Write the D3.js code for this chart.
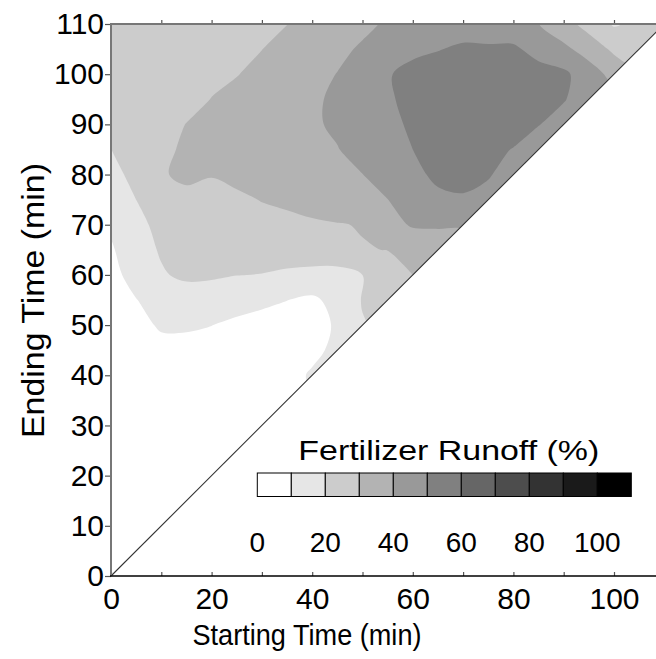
<!DOCTYPE html>
<html>
<head>
<meta charset="utf-8">
<script src="https://cdn.jsdelivr.net/npm/d3@7"></script>
<style>
  body { margin: 0; background: #fff; }
  text { font-family: "Liberation Sans", Arial, Helvetica, sans-serif; fill: #000; }
</style>
</head>
<body>
<svg id="chart" width="656" height="659"></svg>
<script>
// Grid of measurement windows (minutes)
const startTimes = [0, 5, 10, 15, 20, 25, 30, 35, 40, 45, 50, 55, 60, 65, 70, 75, 80, 85, 90, 95, 100, 105, 110];
const endTimes   = [0, 5, 10, 15, 20, 25, 30, 35, 40, 45, 50, 55, 60, 65, 70, 75, 80, 85, 90, 95, 100, 105, 110];

// Fertilizer runoff (%) — one row per ending time, values for starting times 0 .. ending time
const runoffRows = [
  [0],
  [0, 0],
  [0, 0.5, 0.5],
  [0, 0.5, 1, 1],
  [0, 0.5, 1, 1.5, 2],
  [0, 1, 1.5, 2, 2.5, 3],
  [0, 1, 2, 2.5, 3, 3.5, 5],
  [0.5, 2, 3, 3.5, 3.5, 3.5, 4.5, 8],
  [1, 3, 5, 5, 5, 4.5, 4.5, 7, 11],
  [2, 5, 7.5, 7.5, 7, 6, 5, 5.5, 8, 12],
  [4, 7.5, 11, 11, 10.1, 8.5, 7.5, 6.5, 7, 11, 19.5],
  [6, 9.8, 13, 14.5, 14, 13, 11.5, 10.1, 8.5, 12.7, 20.5, 23],
  [8, 12.5, 19, 22, 21.5, 20.2, 19.7, 18, 16.5, 16, 20, 24, 30],
  [9, 15.5, 21, 21.5, 22.6, 23.6, 24.7, 25.8, 26.8, 28, 29.5, 30.2, 33, 35],
  [11.5, 18.5, 21.5, 22, 23.2, 24.4, 25.6, 26.8, 28.5, 29.5, 30.5, 36.4, 41, 41, 40.5],
  [15, 20, 24, 28.5, 26, 27.5, 30.5, 32.3, 34.2, 36.1, 38, 39.9, 44, 48, 49.3, 47],
  [17, 22.8, 29.5, 31.1, 30.6, 33.6, 34.9, 36.1, 37.4, 38.6, 39.9, 43.6, 47.6, 52, 52, 50.8, 46],
  [19.9, 24.2, 28.6, 31, 32.4, 33.8, 35.4, 36.8, 38.3, 39.7, 42.9, 46.5, 50, 52, 53, 52, 49.7, 46],
  [20.8, 23, 26.5, 30.2, 32, 33.8, 35.5, 37.2, 38.9, 41.3, 44.3, 48, 51.2, 53.5, 55, 55, 53.5, 50.3, 47],
  [21, 22, 24, 27, 30.2, 32.3, 34.4, 36.5, 38.7, 41.5, 45.3, 49.1, 52, 54.5, 56, 56.5, 56, 54, 50.5, 46],
  [21.3, 22.5, 24, 26, 28, 29.7, 32.3, 34.9, 37.6, 40.2, 44.4, 49.5, 52, 53, 54, 54.5, 54, 53, 52, 44.5, 37],
  [22, 23.5, 25, 26.5, 27.5, 28.5, 29.9, 32.7, 35.5, 38.2, 41, 44, 48.5, 49.7, 51, 51, 51.3, 47.2, 42.1, 36, 28, 25],
  [23, 24, 25.5, 27, 28, 28.5, 29.2, 29.9, 32.6, 35.4, 38.2, 41, 44, 46, 47, 46, 45, 40.1, 33.9, 26.1, 19, 22, 24]
];

// Contour levels and their fills
const levels = [10, 20, 30, 40, 50, 60, 70, 80, 90, 100];
const levelFills = ["#e6e6e6", "#cccccc", "#b3b3b3", "#999999", "#808080",
                    "#666666", "#4d4d4d", "#333333", "#1a1a1a", "#000000"];

// Legend bins
const legendBins  = [0, 10, 20, 30, 40, 50, 60, 70, 80, 90, 100];
const legendFills = ["#ffffff", "#e6e6e6", "#cccccc", "#b3b3b3", "#999999", "#808080",
                     "#666666", "#4d4d4d", "#333333", "#1a1a1a", "#000000"];
const legendTicks = [0, 20, 40, 60, 80, 100];

// Axis ticks
const xTicks      = [0, 10, 20, 30, 40, 50, 60, 70, 80, 90, 100];
const xTickLabels = [0, 20, 40, 60, 80, 100];
const topTicks    = [10, 20, 30, 40, 50, 60, 70, 80, 90, 100];
const yTicks      = [0, 10, 20, 30, 40, 50, 60, 70, 80, 90, 100, 110];

const svg = d3.select("#chart");
const W = 656, H = 659;
svg.append("rect").attr("width", W).attr("height", H).attr("fill", "#fff");

const x = d3.scaleLinear().domain([0, 110]).range([111, 664.3]);
const y = d3.scaleLinear().domain([0, 110]).range([576, 24]);

// Only windows with ending time after starting time are valid: clip to that triangle
svg.append("clipPath").attr("id", "valid")
  .append("path")
  .attr("d", `M${x(0)},${y(0)}L${x(0)},${y(110)}L${x(110)},${y(110)}Z`);

// Full rectangular grid for the contour generator; cells past the diagonal are
// padded from the diagonal values so the bands run cleanly up to the clip edge
const n = startTimes.length;
const diag = runoffRows.map((row, j) => row[j]);
const grid = new Array(n * n);
for (let j = 0; j < n; j++) {
  for (let i = 0; i < n; i++) {
    grid[j * n + i] = i <= j ? runoffRows[j][i] : (diag[i] + diag[j]) / 2;
  }
}

const contours = d3.contours().size([n, n]).thresholds(levels)(grid);
const s0 = startTimes[0], ds = startTimes[1] - startTimes[0];
const e0 = endTimes[0], de = endTimes[1] - endTimes[0];
const toPx = ([cx, cy]) => [x(s0 + (cx - 0.5) * ds), y(e0 + (cy - 0.5) * de)];
const ringLine = d3.line().curve(d3.curveCatmullRomClosed.alpha(0.5));

const bands = svg.append("g").attr("clip-path", "url(#valid)");
contours.forEach((c, k) => {
  if (!c.coordinates.length) return;
  let d = "";
  c.coordinates.forEach(poly => poly.forEach(ring => {
    const pts = ring.slice(0, ring.length - 1).map(toPx);
    d += ringLine(pts);
  }));
  bands.append("path").attr("d", d).attr("fill", levelFills[k]).attr("stroke", "none");
});

// Diagonal: starting time equals ending time
svg.append("line")
  .attr("x1", x(0)).attr("y1", y(0)).attr("x2", x(110)).attr("y2", y(110))
  .attr("stroke", "#333").attr("stroke-width", 1.1);

// Axes
const gBottom = svg.append("g").attr("transform", `translate(0,${y(0)})`)
  .call(d3.axisBottom(x).tickValues(xTicks).tickSize(-4).tickPadding(12)
    .tickFormat(d => xTickLabels.includes(d) ? d : ""));
const gTop = svg.append("g").attr("transform", `translate(0,${y(110)})`)
  .call(d3.axisTop(x).tickValues(topTicks).tickSize(4).tickFormat(""));
const gLeft = svg.append("g").attr("transform", `translate(${x(0)},0)`)
  .call(d3.axisLeft(y).tickValues(yTicks).tickSize(6).tickPadding(1));

[gBottom, gTop, gLeft].forEach(g => {
  g.select(".domain").remove();
  g.selectAll(".tick line").attr("stroke", "#555").attr("stroke-width", 1.2);
  g.selectAll(".tick text").attr("font-size", 30).attr("font-family", null).attr("fill", "#000");
});

svg.append("line").attr("x1", x(0)).attr("x2", W).attr("y1", y(110)).attr("y2", y(110))
  .attr("stroke", "#777").attr("stroke-width", 2);
svg.append("line").attr("x1", x(0)).attr("x2", x(0)).attr("y1", y(0)).attr("y2", y(110) - 1)
  .attr("stroke", "#777").attr("stroke-width", 2);
svg.append("line").attr("x1", x(0) - 1).attr("x2", W).attr("y1", y(0)).attr("y2", y(0))
  .attr("stroke", "#000").attr("stroke-width", 1.5);

// Axis titles
svg.append("text").attr("x", 307).attr("y", 645).attr("text-anchor", "middle")
  .attr("font-size", 30).attr("textLength", 229).attr("lengthAdjust", "spacingAndGlyphs")
  .text("Starting Time (min)");
svg.append("text").attr("transform", "translate(43.5,300.5) rotate(-90)").attr("text-anchor", "middle")
  .attr("font-size", 32).attr("textLength", 275).attr("lengthAdjust", "spacingAndGlyphs")
  .text("Ending Time (min)");

// Legend
const lx = d3.scaleLinear().domain([0, 110]).range([257.3, 631.3]);
const legend = svg.append("g");
legend.append("text").attr("x", 448.8).attr("y", 460).attr("text-anchor", "middle")
  .attr("font-size", 27).attr("textLength", 301).attr("lengthAdjust", "spacingAndGlyphs")
  .text("Fertilizer Runoff (%)");
legend.selectAll("rect").data(legendBins).join("rect")
  .attr("x", d => lx(d)).attr("y", 473)
  .attr("width", d => lx(d + 10) - lx(d)).attr("height", 23.5)
  .attr("fill", (d, i) => legendFills[i])
  .attr("stroke", "#000").attr("stroke-width", 1);
legend.selectAll("text.lt").data(legendTicks).join("text").attr("class", "lt")
  .attr("x", d => lx(d)).attr("y", 551.5).attr("text-anchor", "middle")
  .attr("font-size", 28).text(d => d);
</script>
</body>
</html>
